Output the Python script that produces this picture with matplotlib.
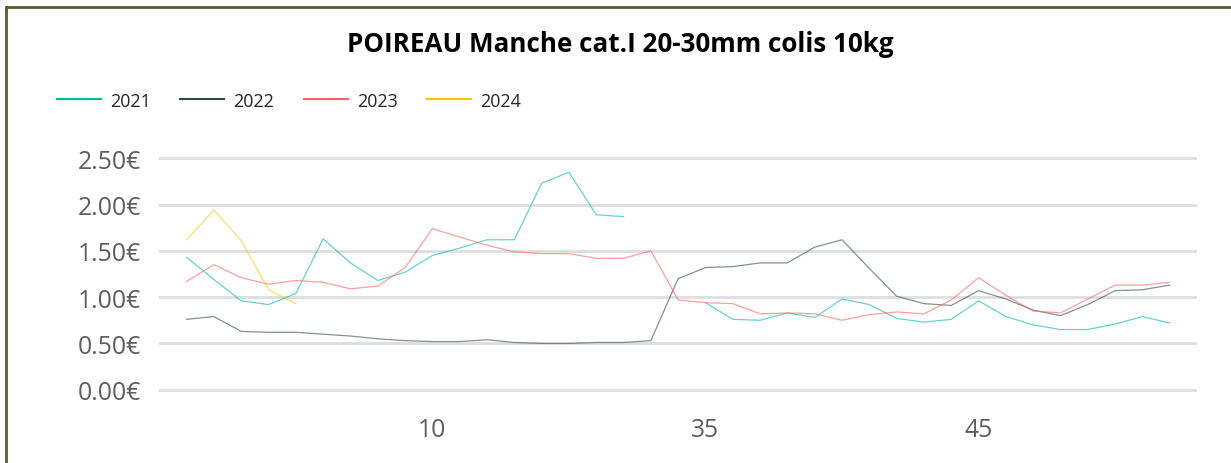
import numpy as np
import matplotlib
matplotlib.use('Agg')
import matplotlib.pyplot as plt
from matplotlib.patches import Rectangle

plt.rcParams['font.family'] = ['Open Sans', 'DejaVu Sans']

# weeks of the campaign (categorical x axis)
weeks = list(range(1, 19)) + list(range(34, 53))
tick_weeks = [10, 35, 45]

nan = np.nan
y2021 = [1.43, 1.19, 0.96, 0.92, 1.04, 1.63, 1.37, 1.18, 1.27, 1.45, 1.53, 1.62, 1.62,
         2.23, 2.35, 1.89, 1.87, nan, nan, 0.94, 0.76, 0.75, 0.83, 0.78, 0.98, 0.92,
         0.77, 0.73, 0.76, 0.96, 0.79, 0.70, 0.65, 0.65, 0.71, 0.79, 0.72]
y2022 = [0.76, 0.79, 0.63, 0.62, 0.62, 0.60, 0.58, 0.55, 0.53, 0.52, 0.52, 0.54, 0.51,
         0.50, 0.50, 0.51, 0.51, 0.53, 1.20, 1.32, 1.33, 1.37, 1.37, 1.54, 1.62, 1.31,
         1.01, 0.93, 0.91, 1.07, 0.98, 0.86, 0.80, 0.92, 1.07, 1.08, 1.13]
y2023 = [1.17, 1.35, 1.21, 1.14, 1.18, 1.16, 1.09, 1.12, 1.32, 1.74, 1.65, 1.56, 1.49,
         1.47, 1.47, 1.42, 1.42, 1.50, 0.97, 0.94, 0.93, 0.82, 0.83, 0.82, 0.75, 0.81,
         0.84, 0.82, 0.97, 1.21, 1.02, 0.85, 0.83, 0.98, 1.13, 1.13, 1.16]
y2024 = [1.62, 1.94, 1.61, 1.08, 0.93]

series = [('2021', y2021, '#01B8AA'),
          ('2022', y2022, '#374649'),
          ('2023', y2023, '#FD625E'),
          ('2024', y2024, '#F2C80F')]

fig = plt.figure(figsize=(12.31, 4.64), dpi=100)
ax = fig.add_axes([0.1294, 0.152, 0.843, 0.5106])

x = np.arange(len(weeks))
for name, vals, col in series:
    ax.plot(x[:len(vals)], vals, color=col, lw=0.9, alpha=0.6, label=name)

ax.set_xlim(-1, len(weeks))
ax.set_ylim(-0.03, 2.53)
ax.set_yticks([0, 0.5, 1.0, 1.5, 2.0, 2.5])
ax.set_yticklabels(['%.2f€' % v for v in ax.get_yticks()])
ax.set_xticks([weeks.index(w) for w in tick_weeks])
ax.set_xticklabels([str(w) for w in tick_weeks])
ax.tick_params(axis='both', length=0, labelsize=17.8, labelcolor='#605E5C')
ax.tick_params(axis='y', pad=13)
ax.tick_params(axis='x', pad=18)
ax.grid(axis='y', color='#dedede', lw=2)
ax.set_axisbelow(True)
for s in ax.spines.values():
    s.set_visible(False)

leg = fig.legend(handles=[plt.Line2D([], [], color=c, lw=1.5) for _, _, c in series],
                 labels=[n for n, _, _ in series], loc='center left',
                 bbox_to_anchor=(0.033, 0.781), ncol=4, frameon=False, fontsize=12.9,
                 handlelength=2.46, handletextpad=0.5, columnspacing=1.65)
for t in leg.get_texts():
    t.set_color('#252423')

fig.text(0.5037, 0.8873, 'POIREAU Manche cat.I 20-30mm colis 10kg', ha='center',
         va='baseline', fontsize=18.7, fontweight='bold', color='black')

# card border (only top and left visible in the crop)
fig.add_artist(Rectangle((6 / 1231, -0.2), 1.2, 1.2 - 8 / 464, transform=fig.transFigure,
                         fill=False, edgecolor='#4b6130', lw=2))

fig.savefig('out.png', dpi=100)
